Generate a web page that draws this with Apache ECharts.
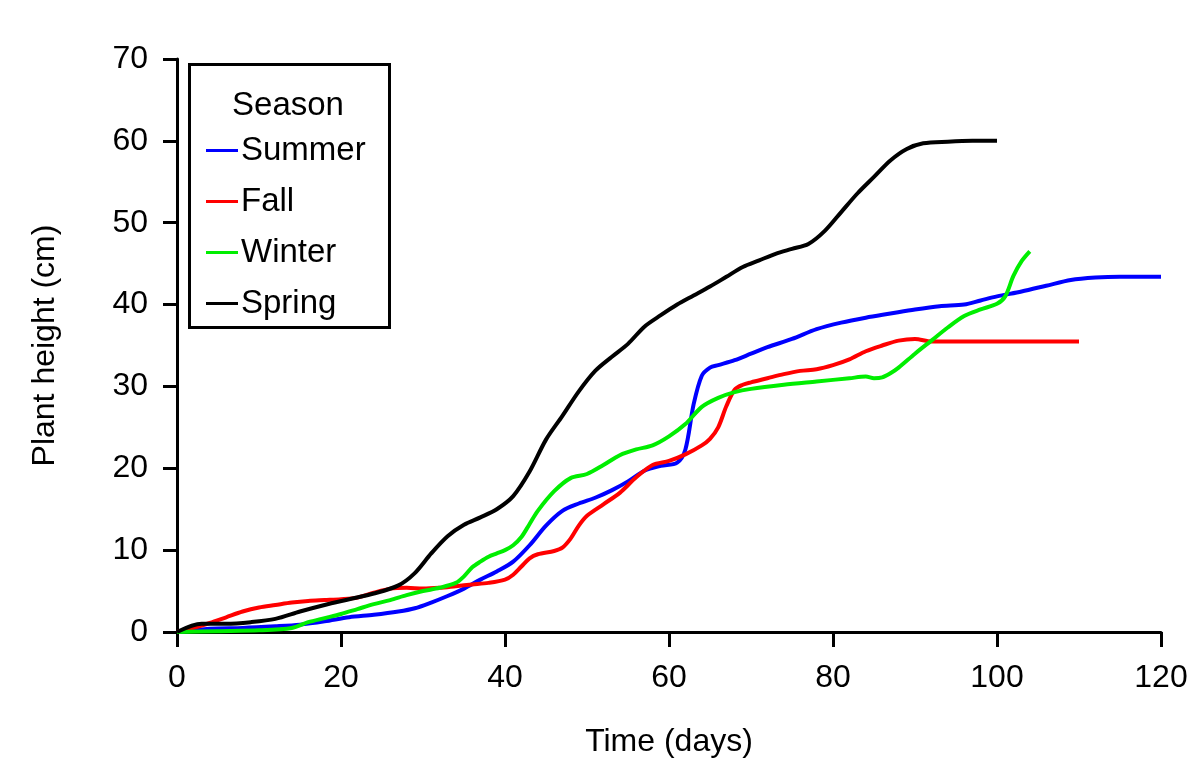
<!DOCTYPE html>
<html>
<head>
<meta charset="utf-8">
<script src="https://cdn.jsdelivr.net/npm/echarts@6/dist/echarts.min.js"></script>
<style>
  html, body { margin: 0; padding: 0; background: #fff; }
  #chart { width: 1199px; height: 772px; }
</style>
</head>
<body>
<div id="chart"></div>
<script>
// values (days, cm)
const xTicks = [0, 20, 40, 60, 80, 100, 120]
const yTicks = [0, 10, 20, 30, 40, 50, 60, 70]

const summerDays = [0,4,8,12,15,18,21,24,27,29,31,33,35,37,39,41,43,45,47,49,51,53,55,57,59,61,62,63,64,65,66,68,70,72,75,78,81,84,87,90,93,96,98,100,103,106,109,112,115,120]
const summerHeight = [0,0.4,0.5,0.7,0.9,1.3,1.8,2.1,2.5,2.9,3.6,4.4,5.3,6.4,7.4,8.6,10.6,13.0,14.8,15.7,16.4,17.3,18.4,19.7,20.3,20.7,22.3,27.8,31.3,32.3,32.6,33.2,34.0,34.8,35.8,37.0,37.8,38.4,38.9,39.4,39.8,40.0,40.5,41.0,41.6,42.3,43.0,43.3,43.4,43.4]

const fallDays = [0,2,4,6,8,10,12,14,16,18,20,22,24,26,28,30,32,34,36,38,40,41,42,43,44,46,47,48,49,50,52,54,56,58,60,62,64,65,66,67,68,69,70,72,74,76,78,80,82,84,86,88,90,92,110]
const fallHeight = [0,0.5,1.1,1.8,2.5,3.0,3.3,3.6,3.8,3.9,4.0,4.2,4.8,5.3,5.4,5.3,5.4,5.6,5.8,6.0,6.4,7.0,8.0,9.0,9.5,9.9,10.3,11.4,13.0,14.2,15.6,17.0,18.9,20.4,20.9,21.7,22.8,23.6,25.0,27.6,29.6,30.2,30.5,31.0,31.5,31.9,32.1,32.6,33.3,34.3,35.0,35.6,35.8,35.5,35.5]

const winterDays = [0,5,10,14,16,18,20,22,24,26,28,30,32,34,35,36,37,38,39,40,41,42,43,44,46,48,50,52,54,56,58,60,62,64,66,68,70,74,78,82,84,85,86,87,88,90,92,94,96,98,100,101,102,103,104]
const winterHeight = [0,0.1,0.2,0.5,1.2,1.7,2.2,2.8,3.4,3.9,4.5,5.0,5.4,6.0,6.8,7.9,8.6,9.2,9.6,10.0,10.6,11.6,13.2,14.8,17.2,18.8,19.3,20.4,21.6,22.3,22.8,23.9,25.4,27.5,28.6,29.3,29.7,30.2,30.6,31.0,31.2,31.0,31.1,31.6,32.3,34.0,35.6,37.2,38.6,39.4,40.1,41.0,43.5,45.3,46.5]

const springDays = [0,3,6,9,12,15,18,21,24,27,29,31,33,35,37,39,41,43,45,47,49,51,53,55,57,59,61,63,65,67,69,71,73,75,77,79,81,83,85,87,89,91,94,97,100]
const springHeight = [0,1.0,1.0,1.2,1.6,2.5,3.3,4.0,4.7,5.7,7.2,9.6,11.7,13.1,14.0,15.0,16.6,19.6,23.5,26.4,29.4,31.9,33.6,35.2,37.3,38.7,40.0,41.1,42.2,43.4,44.6,45.4,46.2,46.8,47.4,49.0,51.3,53.6,55.6,57.6,59.0,59.7,59.9,60,60]

const seasons = ["Summer", "Fall", "Winter", "Spring"]
const colors = ["#0000ff", "#ff0000", "#00ee00", "#000000"]

function pairs(xs, ys) {
  return xs.map((x, i) => [x, ys[i]])
}

const seriesData = [
  pairs(summerDays, summerHeight),
  pairs(fallDays, fallHeight),
  pairs(winterDays, winterHeight),
  pairs(springDays, springHeight)
]

const font = "Liberation Sans, Arial, sans-serif"

let chart = echarts.init(document.getElementById("chart"))

chart.setOption({
  animation: false,
  backgroundColor: "#fff",
  textStyle: { fontFamily: font },
  grid: {
    left: 177,
    top: 59,
    width: 984,
    height: 573,
    containLabel: false
  },
  graphic: [
    {
      type: "rect",
      left: 188,
      top: 63,
      shape: { width: 200, height: 263 },
      style: { fill: "#fff", stroke: "#000", lineWidth: 3 },
      z: 10
    },
    {
      type: "text",
      x: 288,
      y: 106,
      style: {
        text: "Season",
        fontSize: 33,
        fontFamily: font,
        fill: "#000",
        textAlign: "center",
        textVerticalAlign: "middle"
      },
      z: 11
    }
  ],
  legend: {
    orient: "vertical",
    left: 206,
    top: 134,
    icon: "rect",
    itemWidth: 32,
    itemHeight: 3,
    itemGap: 18,
    padding: 0,
    z: 12,
    data: seasons,
    textStyle: {
      fontSize: 33,
      lineHeight: 32,
      fontFamily: font,
      color: "#000",
      padding: [0, 0, 0, -2]
    }
  },
  xAxis: {
    type: "value",
    min: 0,
    max: 120,
    interval: 20,
    name: "Time (days)",
    nameLocation: "middle",
    nameGap: 94,
    nameTextStyle: { fontSize: 32, color: "#000", fontFamily: font },
    axisLine: { onZero: false, lineStyle: { color: "#000", width: 3 } },
    axisTick: { inside: false, length: 15, lineStyle: { color: "#000", width: 3 } },
    axisLabel: {
      margin: 30,
      fontSize: 32,
      color: "#000",
      fontFamily: font,
      formatter: (v) => xTicks.includes(v) ? String(v) : ""
    },
    splitLine: { show: false }
  },
  yAxis: {
    type: "value",
    min: 0,
    max: 70,
    interval: 10,
    name: "Plant height (cm)",
    nameLocation: "middle",
    nameGap: 116,
    nameTextStyle: { fontSize: 32, color: "#000", fontFamily: font },
    axisLine: { show: true, lineStyle: { color: "#000", width: 3 } },
    axisTick: { show: true, inside: false, length: 14, lineStyle: { color: "#000", width: 3 } },
    axisLabel: {
      margin: 29,
      fontSize: 32,
      color: "#000",
      fontFamily: font,
      formatter: (v) => yTicks.includes(v) ? String(v) : ""
    },
    splitLine: { show: false }
  },
  series: seasons.map((name, i) => ({
    name: name,
    type: "line",
    data: seriesData[i],
    smooth: 0.3,
    showSymbol: false,
    symbol: "none",
    color: colors[i],
    lineStyle: { color: colors[i], width: 4 }
  }))
})
</script>
</body>
</html>
